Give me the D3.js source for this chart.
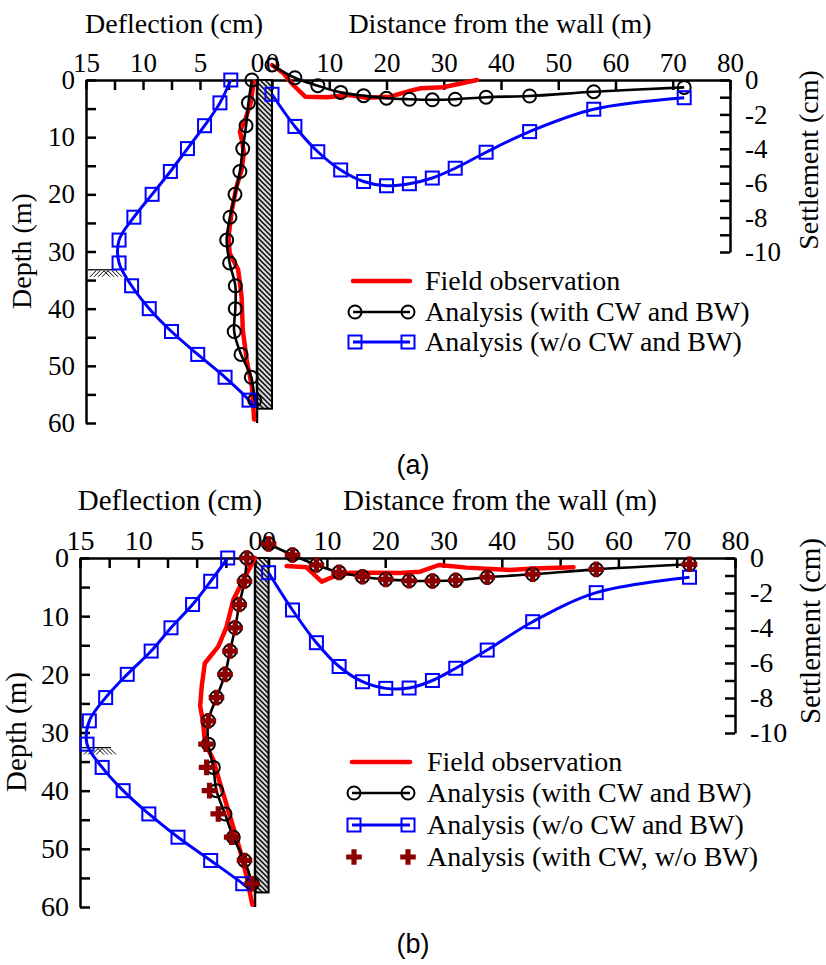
<!DOCTYPE html>
<html>
<head>
<meta charset="utf-8">
<script src="https://cdn.jsdelivr.net/npm/d3@7"></script>
<style>
  body { margin: 0; background: #fff; }
</style>
</head>
<body>
<div id="chart"></div>
<script>
// depths (m) where the analysis markers sit
var markerDepths = [0, 4, 8, 12, 16, 20, 24, 28, 32, 36, 40, 44, 48, 52, 56];

// tick values
var deflTicks = [15, 12.5, 10, 7.5, 5, 2.5, 0];
var distTicks = [0, 10, 20, 30, 40, 50, 60, 70, 80];
var depthTicks = [0, 5, 10, 15, 20, 25, 30, 35, 40, 45, 50, 55, 60];
var settleTicks = [0, -1, -2, -3, -4, -5, -6, -7, -8, -9, -10];

// ---- panel (a) ----
// wall deflection (cm) at markerDepths
var deflBlueA  = [2.3, 3.25, 4.6, 6.1, 7.6, 9.2, 10.8, 12.1, 12.1, 11.0, 9.45, 7.5, 5.2, 2.8, 0.7];
var deflBlackA = [0.45, 0.75, 0.96, 1.25, 1.5, 1.93, 2.37, 2.66, 2.4, 1.9, 1.9, 2.0, 1.4, 0.5, 0.2];
var toeBlueA  = [57.2, 0.25];   // [depth, deflection] at the wall toe
var toeBlackA = [57.2, 0.05];
// field observation [depth, deflection]
var deflFieldA = [[0.3, 0.3], [4, 0.55], [7, 1.05], [9, 1.5], [10.8, 1.3], [12.8, 1.15], [15.7, 1.35],
                  [18.7, 1.8], [22.7, 2.2], [27.4, 2.5], [30.3, 2.4], [33.2, 1.65], [37.9, 1.35],
                  [43.7, 1.25], [49, 0.9], [53.6, 0.45], [59.4, 0.25]];
// ground surface settlement (cm) vs distance from wall (m)
var settleDistA  = [0, 4, 8, 12, 16, 20, 24, 28, 32, 37.4, 45, 56.2, 72];
var settleBlackA = [0.87, 0.13, -0.33, -0.72, -0.91, -1.06, -1.12, -1.15, -1.12, -1.0, -0.93, -0.68, -0.43];
var settleBlueA  = [-0.83, -2.7, -4.17, -5.23, -5.9, -6.15, -6.03, -5.7, -5.13, -4.2, -3.0, -1.7, -1.03];
var settleFieldA = [[0, 0.87], [2, 0.39], [3.7, -0.29], [5.8, -0.97], [9.6, -1.0], [13.6, -0.87],
                    [16.5, -1.03], [20.6, -0.97], [24.4, -0.6], [26, -0.48], [29.9, -0.42], [35.8, 0]];
var excavationA = 33.2;

// ---- panel (b) ----
var deflBlueB  = [2.34, 3.8, 5.35, 7.2, 8.9, 10.95, 12.8, 14.2, 14.4, 13.1, 11.3, 9.1, 6.6, 3.8, 1.05];
var deflBlackB = [0.7, 0.9, 1.35, 1.7, 2.14, 2.57, 3.3, 4.0, 4.0, 3.57, 3.3, 2.57, 1.86, 0.9, 0.23];
var deflPlusB  = [0.7, 0.9, 1.35, 1.7, 2.14, 2.57, 3.3, 4.0, 4.2, 4.15, 3.9, 3.15, 2.0, 0.9, 0.25];
var toeBlueB  = [57, 0.43];
var toeBlackB = [57, 0.1];
var deflFieldB = [[0, 0], [2.6, 0.7], [7.2, 1.86], [11.8, 2.43], [15.2, 3.14], [18.1, 4.3], [22.1, 4.57],
                  [25.5, 4.7], [27.8, 4.48], [31.8, 4.28], [34.7, 3.57], [38.7, 3.0], [44.4, 2.14],
                  [50.2, 1.29], [54.8, 0.71], [59.6, 0.23]];
var settleDistB  = [0, 4.1, 8.2, 12.1, 16.1, 20.1, 24.1, 28.1, 32.1, 37.5, 45.3, 56.2, 72.2];
var settleBlackB = [0.8, 0.17, -0.4, -0.82, -1.07, -1.22, -1.3, -1.31, -1.27, -1.1, -0.93, -0.65, -0.36];
var settleBlueB  = [-0.84, -2.97, -4.84, -6.2, -7.07, -7.45, -7.43, -7.0, -6.3, -5.26, -3.64, -1.98, -1.1];
var settleFieldB = [[3.1, -0.46], [6.5, -0.53], [9.1, -1.35], [11.1, -1.07], [14, -0.84], [18, -0.84],
                    [22.5, -0.86], [26, -0.78], [29.2, -0.4], [34, -0.55], [41.4, -0.69], [45.4, -0.6],
                    [52.3, -0.53]];
var excavationB = 32.6;

var wallToe = 57.5;
var legendLabels = ["Field observation", "Analysis (with CW and BW)",
                    "Analysis (w/o CW and BW)", "Analysis (with CW, w/o BW)"];

var RED = "#ff0000", BLUE = "#0000ff", PLUS = "#8b0000";
var SERIF = "Liberation Serif, serif";
var SANS = "Liberation Sans, sans-serif";

var svg = d3.select("#chart").append("svg")
            .attr("width", 826).attr("height", 965)
            .attr("font-family", SERIF);

// hatch for the wall
var pat = svg.append("defs").append("pattern")
             .attr("id", "hatch")
             .attr("patternUnits", "userSpaceOnUse")
             .attr("width", 5).attr("height", 5);
pat.append("rect").attr("width", 5).attr("height", 5).attr("fill", "#d8d8d8");
pat.append("path")
   .attr("d", "M-1,-1 L6,6 M-1,4 L1,6 M4,-1 L6,1")
   .attr("stroke", "#000").attr("stroke-width", 1.4);

function pairs(depths, vals) {
    return depths.map(function(z, i) { return [z, vals[i]]; });
}

function label(g, x, y, size, txt) {
    return g.append("text").attr("x", x).attr("y", y)
            .attr("font-size", size)
            .attr("font-family", SERIF)
            .attr("fill", "#000")
            .text(txt);
}

function drawPanel(p) {
    var xDef = d3.scaleLinear().domain([15, 0]).range(p.defRange);
    var xDist = d3.scaleLinear().domain([0, 80]).range(p.distRange);
    var yDepth = d3.scaleLinear().domain([0, 60]).range(p.depthRange);
    var ySet = d3.scaleLinear().domain([0, -10]).range(p.setRange);
    var fs = p.fontSize;

    var g = svg.append("g").attr("font-family", SERIF);

    // wall
    g.append("rect")
     .attr("x", xDef(0)).attr("y", yDepth(0))
     .attr("width", xDist(0) - xDef(0))
     .attr("height", yDepth(wallToe) - yDepth(0))
     .attr("fill", "url(#hatch)")
     .attr("stroke", "#000").attr("stroke-width", 2);
    g.append("line")
     .attr("x1", xDef(0)).attr("x2", xDef(0))
     .attr("y1", yDepth(0)).attr("y2", yDepth(60))
     .attr("stroke", "#000").attr("stroke-width", 2.5);

    // excavation level symbol
    var ye = yDepth(p.excavation), x0 = xDef(15);
    g.append("line")
     .attr("x1", x0 + 2).attr("x2", x0 + 31)
     .attr("y1", ye).attr("y2", ye)
     .attr("stroke", "#000").attr("stroke-width", 1.3);
    var hatch = "";
    [0, 1, 2, 3].forEach(function(i) {
        hatch += "M" + (x0 + 10 + i * 4) + "," + (ye + 1) + " l-6,6 ";
        hatch += "M" + (x0 + 18 + i * 4) + "," + (ye + 1) + " l6,6 ";
    });
    g.append("path").attr("d", hatch).attr("stroke", "#000").attr("stroke-width", 1);

    // axes
    var fmt = function(v) { return String(v); };
    var top1 = g.append("g").attr("transform", "translate(0," + yDepth(0) + ")")
        .call(d3.axisTop(xDef).tickValues(deflTicks).tickSize(-10).tickSizeOuter(0).tickPadding(8)
              .tickFormat(function(v) { return v % 5 === 0 ? fmt(v) : ""; }));
    var top2 = g.append("g").attr("transform", "translate(0," + yDepth(0) + ")")
        .call(d3.axisTop(xDist).tickValues(distTicks).tickSize(-10).tickSizeOuter(0).tickPadding(8)
              .tickFormat(fmt));
    var left = g.append("g").attr("transform", "translate(" + xDef(15) + ",0)")
        .call(d3.axisLeft(yDepth).tickValues(depthTicks).tickSize(-10).tickSizeOuter(0).tickPadding(11)
              .tickFormat(function(v) { return v % 10 === 0 ? fmt(v) : ""; }));
    var right = g.append("g").attr("transform", "translate(" + xDist(80) + ",0)")
        .call(d3.axisRight(ySet).tickValues(settleTicks).tickSize(-10).tickSizeOuter(0).tickPadding(15)
              .tickFormat(function(v) { return v % 2 === 0 ? fmt(v) : ""; }));
    [top1, top2, left, right].forEach(function(a) {
        a.attr("font-family", SERIF).attr("font-size", fs - 1);
        a.selectAll("path, line").attr("stroke", "#000").attr("stroke-width", 2.5);
        a.selectAll("text").attr("font-size", fs - 1).attr("font-family", SERIF).attr("fill", "#000");
    });

    // axis titles
    label(g, p.defTitle[0], p.defTitle[1], fs, "Deflection (cm)").attr("text-anchor", "middle");
    label(g, p.distTitle[0], p.distTitle[1], fs, "Distance from the wall (m)").attr("text-anchor", "middle");
    label(g, 0, 0, fs, "Depth (m)").attr("text-anchor", "middle")
     .attr("transform", "translate(" + p.depthTitle[0] + "," + p.depthTitle[1] + ") rotate(-90)");
    label(g, 0, 0, fs, "Settlement (cm)").attr("text-anchor", "middle")
     .attr("transform", "translate(" + p.setTitle[0] + "," + p.setTitle[1] + ") rotate(-90)");

    // line generators
    var deflLine = d3.line()
        .x(function(d) { return xDef(d[1]); })
        .y(function(d) { return yDepth(d[0]); })
        .curve(d3.curveCatmullRom.alpha(0.5));
    var setLine = d3.line()
        .x(function(d) { return xDist(d[0]); })
        .y(function(d) { return ySet(d[1]); })
        .curve(d3.curveCatmullRom.alpha(0.5));
    var fieldDefl = d3.line()
        .x(function(d) { return xDef(d[1]); })
        .y(function(d) { return yDepth(d[0]); });
    var fieldSet = d3.line()
        .x(function(d) { return xDist(d[0]); })
        .y(function(d) { return ySet(d[1]); });

    // field observation
    g.append("path").attr("d", fieldDefl(p.deflField)).attr("fill", "none")
     .attr("stroke", RED).attr("stroke-width", 4.5).attr("stroke-linejoin", "round").attr("stroke-linecap", "round");
    g.append("path").attr("d", fieldSet(p.settleField)).attr("fill", "none")
     .attr("stroke", RED).attr("stroke-width", 4.5).attr("stroke-linejoin", "round").attr("stroke-linecap", "round");

    var blackDefl = pairs(markerDepths, p.deflBlack);
    var blueDefl = pairs(markerDepths, p.deflBlue);
    var blackSet = pairs(p.settleDist, p.settleBlack);
    var blueSet = pairs(p.settleDist, p.settleBlue);

    // analysis curves
    g.append("path").attr("d", deflLine(blackDefl.concat([p.toeBlack]))).attr("fill", "none")
     .attr("stroke", "#000").attr("stroke-width", 2.6);
    g.append("path").attr("d", setLine(blackSet)).attr("fill", "none")
     .attr("stroke", "#000").attr("stroke-width", 2.6);
    g.append("path").attr("d", deflLine(blueDefl.concat([p.toeBlue]))).attr("fill", "none")
     .attr("stroke", BLUE).attr("stroke-width", 3);
    g.append("path").attr("d", setLine(blueSet)).attr("fill", "none")
     .attr("stroke", BLUE).attr("stroke-width", 3);

    // markers
    function circles(data, fx, fy) {
        g.selectAll(null).data(data).enter().append("circle")
         .attr("cx", fx).attr("cy", fy).attr("r", 6.5)
         .attr("fill", "none").attr("stroke", "#000").attr("stroke-width", 2);
    }
    function squares(data, fx, fy) {
        g.selectAll(null).data(data).enter().append("rect")
         .attr("x", function(d) { return fx(d) - 6.5; })
         .attr("y", function(d) { return fy(d) - 6.5; })
         .attr("width", 13).attr("height", 13)
         .attr("fill", "none").attr("stroke", BLUE).attr("stroke-width", 2);
    }
    var cross = d3.symbol().type(d3.symbolCross).size(135);
    function pluses(data, fx, fy) {
        g.selectAll(null).data(data).enter().append("path")
         .attr("d", cross)
         .attr("transform", function(d) { return "translate(" + fx(d) + "," + fy(d) + ")"; })
         .attr("fill", PLUS);
    }
    var dX = function(d) { return xDef(d[1]); }, dY = function(d) { return yDepth(d[0]); };
    var sX = function(d) { return xDist(d[0]); }, sY = function(d) { return ySet(d[1]); };
    circles(blackDefl, dX, dY);
    circles(blackSet, sX, sY);
    squares(blueDefl, dX, dY);
    squares(blueSet, sX, sY);
    if (p.deflPlus) {
        pluses(pairs(markerDepths, p.deflPlus), dX, dY);
        pluses(blackSet, sX, sY);
    }

    // legend
    var L = p.legend, lx0 = L.x0, lx1 = L.x1;
    var rows = L.rows;
    var px = function(d) { return d[0]; }, py = function(d) { return d[1]; };
    g.append("line").attr("x1", lx0).attr("x2", lx1).attr("y1", rows[0]).attr("y2", rows[0])
     .attr("stroke", RED).attr("stroke-width", 4.5).attr("stroke-linecap", "round");
    g.append("line").attr("x1", lx0).attr("x2", lx1).attr("y1", rows[1]).attr("y2", rows[1])
     .attr("stroke", "#000").attr("stroke-width", 2.6);
    circles([[lx0 + 2, rows[1]], [lx1 - 2, rows[1]]], px, py);
    g.append("line").attr("x1", lx0).attr("x2", lx1).attr("y1", rows[2]).attr("y2", rows[2])
     .attr("stroke", BLUE).attr("stroke-width", 3);
    squares([[lx0 + 2, rows[2]], [lx1 - 2, rows[2]]], px, py);
    if (rows.length > 3) {
        pluses([[lx0 + 2, rows[3]], [lx1 - 2, rows[3]]], px, py);
    }
    rows.forEach(function(ry, i) {
        label(g, L.textX, ry + 9, L.fontSize, legendLabels[i]);
    });

    // panel tag
    g.append("text").attr("x", p.tag[0]).attr("y", p.tag[1])
     .attr("text-anchor", "middle").attr("font-size", 27)
     .attr("font-family", SANS).attr("fill", "#000")
     .text(p.tagText);
}

drawPanel({
    defRange: [86, 257], distRange: [272, 730], depthRange: [80, 423], setRange: [80, 252],
    fontSize: 28,
    deflBlue: deflBlueA, deflBlack: deflBlackA, toeBlue: toeBlueA, toeBlack: toeBlackA,
    deflField: deflFieldA,
    settleDist: settleDistA, settleBlack: settleBlackA, settleBlue: settleBlueA, settleField: settleFieldA,
    excavation: excavationA,
    defTitle: [174, 33], distTitle: [500, 33], depthTitle: [31, 251], setTitle: [818, 160],
    legend: { x0: 353, x1: 410, textX: 425, rows: [281, 312, 342], fontSize: 28 },
    tag: [413, 474], tagText: "(a)"
});

drawPanel({
    defRange: [80, 255], distRange: [268.6, 735], depthRange: [558, 907], setRange: [558, 733],
    fontSize: 29,
    deflBlue: deflBlueB, deflBlack: deflBlackB, deflPlus: deflPlusB, toeBlue: toeBlueB, toeBlack: toeBlackB,
    deflField: deflFieldB,
    settleDist: settleDistB, settleBlack: settleBlackB, settleBlue: settleBlueB, settleField: settleFieldB,
    excavation: excavationB,
    defTitle: [170, 510], distTitle: [500, 510], depthTitle: [26, 732], setTitle: [820, 631],
    legend: { x0: 352, x1: 410, textX: 427, rows: [762, 793, 825, 857], fontSize: 28 },
    tag: [413, 953], tagText: "(b)"
});
</script>
</body>
</html>
